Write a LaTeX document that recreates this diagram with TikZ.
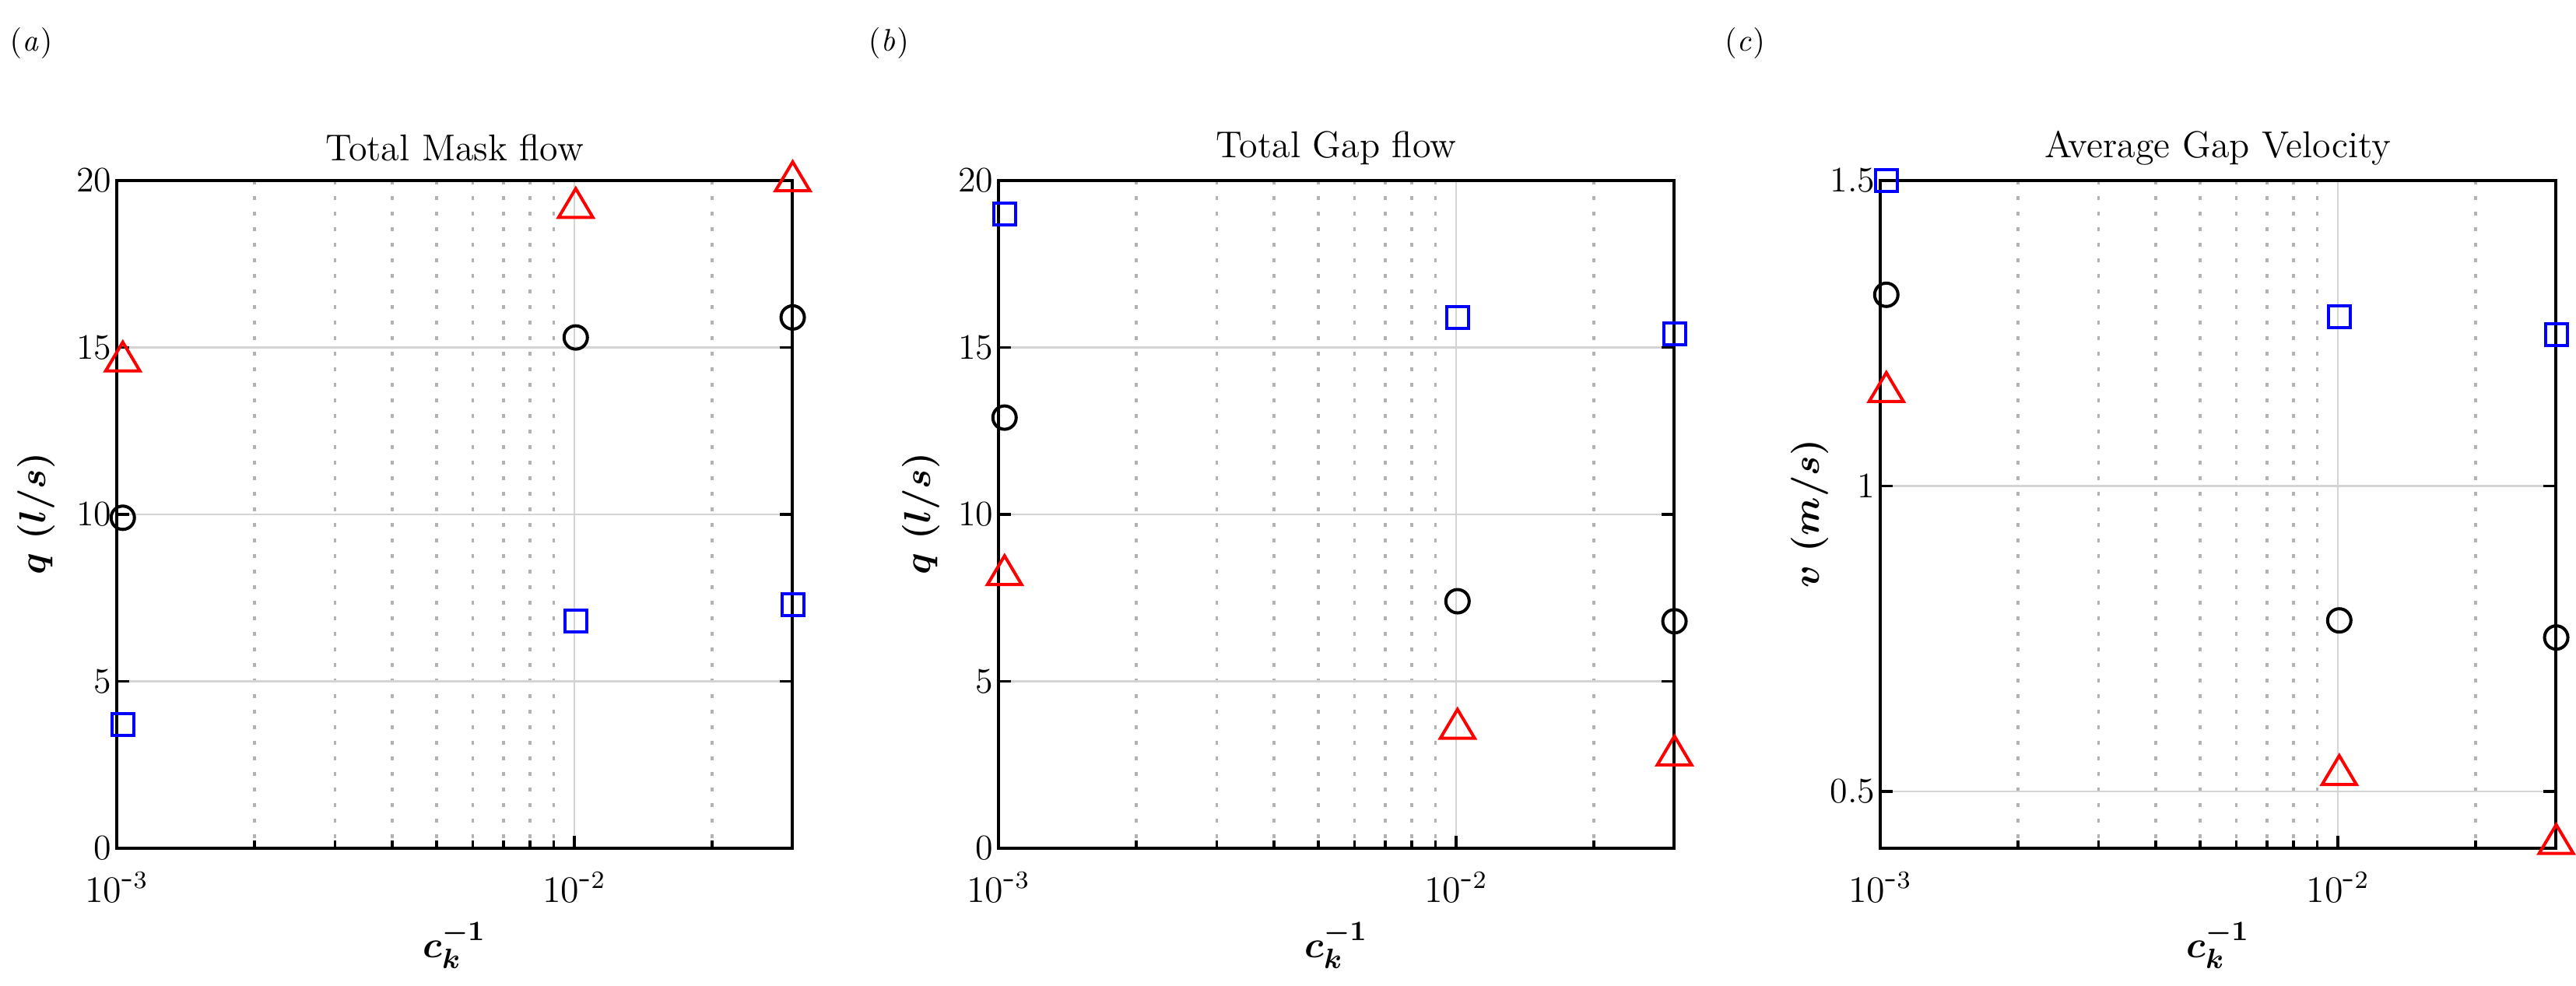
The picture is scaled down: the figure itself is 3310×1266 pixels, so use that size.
\documentclass[tikz,border=0pt]{standalone}
\usetikzlibrary{calc}
\begin{document}
\begin{tikzpicture}[x=0.25pt,y=-0.25pt,
  ax/.style={line width=1.1pt,black},
  gmaj/.style={line width=0.7pt,black!17},
  gmin/.style={line width=0.8pt,black!30,dash pattern=on 1.2pt off 3.8pt},
  tl/.style={font=\fontsize{11.5}{12}\selectfont,inner sep=1pt},
  ttl/.style={font=\fontsize{12}{13}\selectfont},
  axl/.style={font=\fontsize{13}{14}\selectfont\boldmath},
  mc/.style={line width=1pt,black},
  ms/.style={line width=1pt,blue},
  mt/.style={line width=1pt,red,line join=miter}]
\useasboundingbox (0,0) rectangle (3310,1266);
\def\T{232}\def\B{1090}\def\D{588}
\newcommand\mypanel[6]{%
  \foreach \m in {2,3,4,5,6,7,8,9} {\pgfmathsetmacro\xx{#1+\D*ln(\m)/ln(10)}
    \draw[gmin] (\xx,\T) -- (\xx,\B); \draw[ax,line width=0.8pt] (\xx,\B) -- (\xx,\B-10);}
  \pgfmathsetmacro\xx{#1+\D*(1+ln(2)/ln(10))}
  \draw[gmin] (\xx,\T) -- (\xx,\B); \draw[ax,line width=0.8pt] (\xx,\B) -- (\xx,\B-10);
  \draw[gmaj] (#1+\D,\T) -- (#1+\D,\B);
  \draw[ax] (#1+\D,\B) -- (#1+\D,\B-16);
  \node[ttl] (#6t) at (#1+434,190) {#2};
  \node[axl,rotate=90] (#6y) at (#5,660) {$#3$};
  \node[axl] (#6x) at (#1+434,1215) {$c_k^{-1}$};
  \node[tl] (#6a) at (#1,1140) {$10^{\mbox{-}3}$};
  \node[tl] (#6b) at (#1+\D,1140) {$10^{\mbox{-}2}$};
  \node[font=\fontsize{10}{11}\selectfont] (#6p) at (#4,55) {$(\mathit{#6})$};
}
\newcommand\myqaxis[1]{%
  \foreach \v in {0,5,10,15,20} {\pgfmathsetmacro\yy{\B-42.9*\v}
    \ifnum\v>0\ifnum\v<20 \draw[gmaj] (#1,\yy) -- (#1+868,\yy);\fi\fi
    \draw[ax,line width=0.8pt] (#1,\yy) -- (#1+16,\yy) (#1+868,\yy) -- (#1+852,\yy);
    \node[tl,anchor=east] at (#1-2,\yy) {\v};}
}
\newcommand\mkcirc[3]{\pgfmathsetmacro\xx{#1+\D*(ln(#2)/ln(10)+3)}\draw[mc] (\xx,#3) circle (15);}
\newcommand\mksqu[3]{\pgfmathsetmacro\xx{#1+\D*(ln(#2)/ln(10)+3)}\draw[ms] (\xx-14,#3-14) rectangle (\xx+14,#3+14);}
\newcommand\mktri[3]{\pgfmathsetmacro\xx{#1+\D*(ln(#2)/ln(10)+3)}\draw[mt] (\xx-22,#3+13) -- (\xx,#3-24) -- (\xx+22,#3+13) -- cycle;}
\newcommand\myqy[1]{\pgfmathsetmacro\yv{\B-42.9*#1}}
\newcommand\myvy[1]{\pgfmathsetmacro\yv{\B-785*(#1-0.407)}}
\mypanel{150}{Total Mask flow}{q\ (l/s)}{40}{46}{a}
\myqaxis{150}
\mypanel{1283}{Total Gap flow}{q\ (l/s)}{1142}{1183}{b}
\myqaxis{1283}
\mypanel{2416}{Average Gap Velocity}{v\ (m/s)}{2242}{2325}{c}
\foreach \v/\s in {0.5/0.5,1/1,1.5/1.5} {\pgfmathsetmacro\yy{\B-785*(\v-0.407)}
  \ifdim\v pt<1.4pt \draw[gmaj] (2416,\yy) -- (3284,\yy);\fi
  \draw[ax,line width=0.8pt] (2416,\yy) -- (2432,\yy) (3284,\yy) -- (3268,\yy);
  \node[tl,anchor=east] at (2414,\yy) {\s};}
\foreach \L in {150,1283,2416} \draw[ax] (\L,\T) rectangle (\L+868,\B);
\myqy{9.9}\mkcirc{150}{0.001}{\yv} \myqy{15.3}\mkcirc{150}{0.01}{\yv} \myqy{15.9}\mkcirc{150}{0.03}{\yv}
\myqy{3.7}\mksqu{150}{0.001}{\yv} \myqy{6.8}\mksqu{150}{0.01}{\yv} \myqy{7.3}\mksqu{150}{0.03}{\yv}
\myqy{14.6}\mktri{150}{0.001}{\yv} \myqy{19.2}\mktri{150}{0.01}{\yv} \myqy{20.0}\mktri{150}{0.03}{\yv}
\myqy{12.9}\mkcirc{1283}{0.001}{\yv} \myqy{7.4}\mkcirc{1283}{0.01}{\yv} \myqy{6.8}\mkcirc{1283}{0.03}{\yv}
\myqy{19.0}\mksqu{1283}{0.001}{\yv} \myqy{15.9}\mksqu{1283}{0.01}{\yv} \myqy{15.4}\mksqu{1283}{0.03}{\yv}
\myqy{8.2}\mktri{1283}{0.001}{\yv} \myqy{3.6}\mktri{1283}{0.01}{\yv} \myqy{2.8}\mktri{1283}{0.03}{\yv}
\myvy{1.313}\mkcirc{2416}{0.001}{\yv} \myvy{0.78}\mkcirc{2416}{0.01}{\yv} \myvy{0.752}\mkcirc{2416}{0.03}{\yv}
\myvy{1.5}\mksqu{2416}{0.001}{\yv} \myvy{1.277}\mksqu{2416}{0.01}{\yv} \myvy{1.248}\mksqu{2416}{0.03}{\yv}
\myvy{1.155}\mktri{2416}{0.001}{\yv} \myvy{0.528}\mktri{2416}{0.01}{\yv} \myvy{0.415}\mktri{2416}{0.03}{\yv}
\end{tikzpicture}
\end{document}
